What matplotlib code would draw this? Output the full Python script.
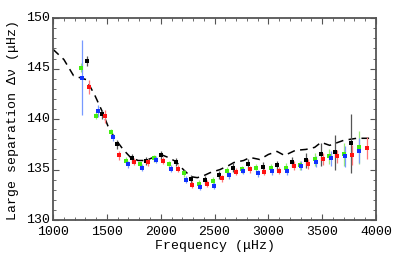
import matplotlib
matplotlib.use('Agg')
import matplotlib.pyplot as plt
import matplotlib.transforms as mtransforms
from matplotlib.ticker import MultipleLocator

plt.rcParams['font.family'] = ['Liberation Mono', 'DejaVu Sans Mono']

# model (dashed line)
model_f = [1000, 1100, 1190, 1250, 1310, 1390, 1450, 1510, 1580, 1650, 1720, 1790,
           1860, 1930, 2000, 2070, 2140, 2210, 2280, 2340, 2400, 2460, 2550, 2630,
           2680, 2770, 2830, 2920, 3000, 3080, 3150, 3250, 3350, 3430, 3490, 3570,
           3700, 3820, 3940]
model_v = [146.9, 145.9, 144.3, 144.1, 143.9, 142.3, 140.9, 139.3, 138.0, 137.0,
           136.2, 135.9, 135.9, 136.2, 136.5, 136.2, 135.8, 135.0, 134.3, 134.2,
           134.4, 134.7, 135.0, 135.4, 135.7, 135.9, 136.2, 136.0, 136.5, 136.8,
           136.4, 136.9, 137.0, 137.2, 137.7, 137.4, 137.9, 138.1, 138.1]

# green series
green_f = [1257, 1399, 1536, 1678, 1808, 1938, 2080, 2217, 2359, 2483, 2619, 2752,
           2885, 3022, 3164, 3294, 3433, 3567, 3703, 3845]
green_v = [145.1, 140.33, 138.68, 135.9, 135.55, 136.1, 135.55, 134.65, 133.6, 133.9,
           134.88, 135.05, 135.12, 135.12, 135.2, 135.45, 136.04, 136.3, 136.5, 137.2]
green_e = [0.45, 0.35, 0.35, 0.35, 0.35, 0.35, 0.35, 0.35, 0.35, 0.35, 0.35, 0.35,
           0.4, 0.4, 0.45, 0.45, 0.65, 0.75, 1.15, 1.6]

# blue series
blue_f = [1272, 1421, 1554, 1694, 1827, 1954, 2096, 2232, 2368, 2495, 2635, 2768,
          2901, 3037, 3170, 3303, 3440, 3579, 3712, 3845]
blue_v = [144.12, 140.83, 138.2, 135.55, 135.2, 135.97, 135.1, 133.99, 133.3, 133.4,
          134.46, 134.9, 134.65, 134.82, 134.9, 135.38, 135.78, 136.1, 136.3, 136.87]
blue_e = [3.75, 0.6, 0.35, 0.35, 0.35, 0.35, 0.35, 0.35, 0.35, 0.35, 0.35, 0.35,
          0.35, 0.35, 0.4, 0.45, 0.55, 0.7, 1.0, 1.25]

# black series
black_f = [1313, 1455, 1598, 1737, 1864, 2003, 2143, 2279, 2412, 2545, 2675, 2814,
           2947, 3084, 3217, 3350, 3486, 3622, 3765]
black_v = [145.77, 140.5, 137.5, 136.1, 135.84, 136.44, 135.71, 134.06, 134.0, 134.46,
           135.2, 135.55, 135.28, 135.45, 135.78, 135.94, 136.5, 136.7, 137.6]
black_e = [0.5, 0.45, 0.45, 0.4, 0.4, 0.45, 0.4, 0.4, 0.4, 0.4, 0.45, 0.45,
           0.45, 0.45, 0.5, 0.75, 1.15, 1.7, 2.9]

# red series
red_f = [1337, 1483, 1616, 1755, 1885, 2025, 2158, 2294, 2433, 2567, 2697, 2830,
         2963, 3099, 3238, 3372, 3505, 3641, 3774, 3913]
red_v = [143.2, 140.26, 136.44, 135.78, 135.71, 135.87, 135.1, 133.5, 133.6, 134.13,
         134.8, 135.05, 134.8, 134.9, 135.38, 135.55, 136.04, 136.3, 136.44, 137.1]
red_e = [0.7, 0.6, 0.45, 0.35, 0.35, 0.35, 0.35, 0.35, 0.35, 0.35, 0.35, 0.35,
         0.35, 0.35, 0.45, 0.5, 0.6, 0.6, 1.0, 1.1]

fig = plt.figure(figsize=(4.15, 2.55), dpi=100)
ax = fig.add_axes([0.128, 0.133, 0.778, 0.792])

ax.plot(model_f, model_v, color='black', lw=1.1, ls=(0, (5, 3.5)), zorder=1)

series = [
    (green_f, green_v, green_e, '#44ee11', '#99ee77'),
    (blue_f, blue_v, blue_e, '#1133ff', '#7799ff'),
    (black_f, black_v, black_e, 'black', '#555555'),
    (red_f, red_v, red_e, '#ff1111', '#ff7777'),
]
for f, v, e, c, ec in series:
    ax.errorbar(f, v, yerr=e, fmt='s', color=c, ecolor=ec, ms=3.2, mew=0,
                elinewidth=0.9, capsize=2.6, capthick=0.9, zorder=2)

ax.set_xlim(1000, 4000)
ax.set_ylim(130, 150)
ax.xaxis.set_major_locator(MultipleLocator(500))
ax.xaxis.set_minor_locator(MultipleLocator(100))
ax.yaxis.set_major_locator(MultipleLocator(5))
ax.yaxis.set_minor_locator(MultipleLocator(1))
ax.tick_params(which='both', direction='in', top=True, right=True,
               labelsize=9.5, color='#555555')
ax.tick_params(axis='x', pad=3.5)
ax.tick_params(axis='y', pad=2)
ax.tick_params(which='major', length=4, width=0.8)
ax.tick_params(which='minor', length=2, width=0.6)
for s in ax.spines.values():
    s.set_color('#555555')
    s.set_linewidth(1.3)

# y tick labels sit a little above their ticks
shift = mtransforms.ScaledTranslation(0, 3 / 100, fig.dpi_scale_trans)
for lbl in ax.get_yticklabels():
    lbl.set_transform(lbl.get_transform() + shift)

ax.set_xlabel('Frequency (μHz)', fontsize=9.5, labelpad=1.5)
ax.set_ylabel('Large separation Δν (μHz)', fontsize=9.5, labelpad=5)

fig.savefig('out.png', dpi=100)
